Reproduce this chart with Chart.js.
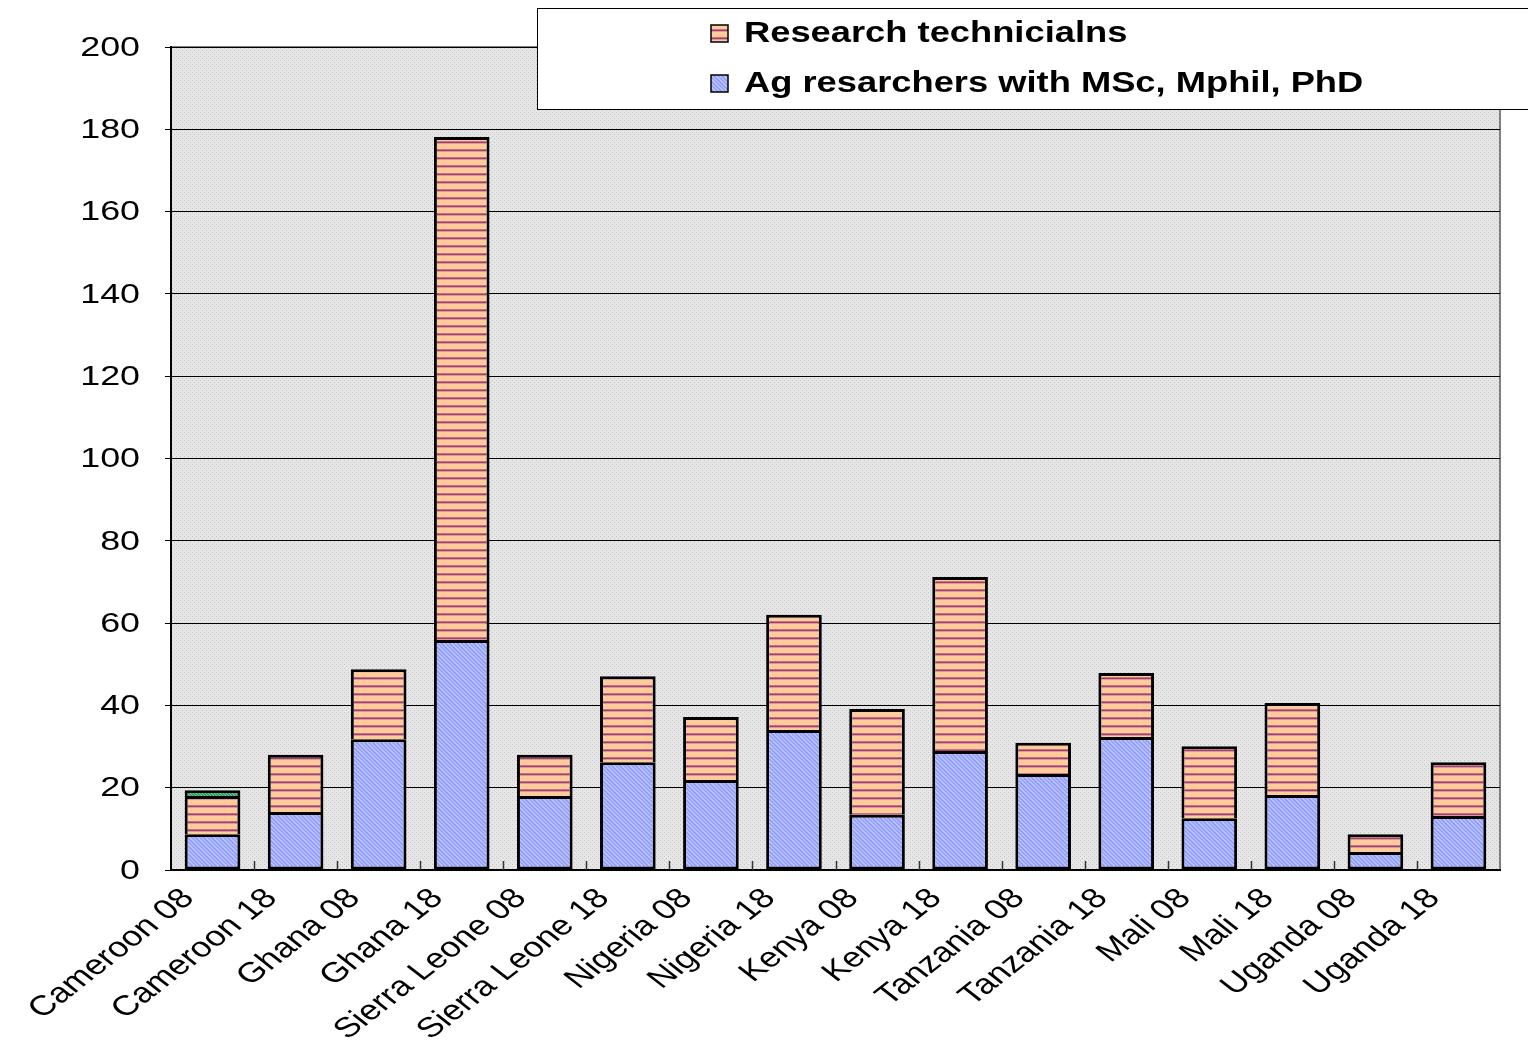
<!DOCTYPE html>
<html>
<head>
<meta charset="utf-8">
<script src="https://cdn.jsdelivr.net/npm/chart.js@4.4.1/dist/chart.umd.min.js"></script>
<style>
html,body{margin:0;padding:0;background:#fff;}
#wrap{position:relative;width:1528px;height:1047px;}
</style>
</head>
<body>
<div id="wrap"><canvas id="c" width="1528" height="1047"></canvas></div>
<script>
const categories = ["Cameroon 08","Cameroon 18","Ghana 08","Ghana 18","Sierra Leone 08","Sierra Leone 18","Nigeria 08","Nigeria 18","Kenya 08","Kenya 18","Tanzania 08","Tanzania 18","Mali 08","Mali 18","Uganda 08","Uganda 18"];
const researchers = [8.7, 14.1, 31.8, 55.9, 18.0, 26.2, 21.9, 34.0, 13.4, 28.9, 23.3, 32.3, 12.6, 18.2, 4.4, 13.1];
const technicians = [9.3, 13.9, 17.0, 122.2, 10.0, 20.9, 15.3, 28.0, 25.7, 42.3, 7.6, 15.6, 17.5, 22.4, 4.3, 13.1];
const other = [1.4, 0, 0, 0, 0, 0, 0, 0, 0, 0, 0, 0, 0, 0, 0, 0];
const yTicks = [0, 20, 40, 60, 80, 100, 120, 140, 160, 180, 200];
const seriesLabels = ["Ag resarchers with MSc, Mphil, PhD", "Research technicialns", ""];

const STRETCH = 1.28;
const FONT = '"Liberation Sans", Arial, sans-serif';

function makePattern(w, h, draw) {
  const c = document.createElement('canvas');
  c.width = w; c.height = h;
  const g = c.getContext('2d');
  draw(g, w, h);
  return document.getElementById('c').getContext('2d').createPattern(c, 'repeat');
}
const bgPattern = makePattern(4, 4, (g) => {
  g.fillStyle = '#e6e6e6'; g.fillRect(0,0,4,4);
  g.fillStyle = '#c6c6c6'; g.fillRect(0,0,1,1); g.fillRect(2,2,1,1);
});
const orangePattern = makePattern(8, 8, (g) => {
  g.fillStyle = '#ffcc99'; g.fillRect(0,0,8,8);
  g.fillStyle = '#c87088'; g.fillRect(0,5,8,1);
  g.fillStyle = '#a0406a'; g.fillRect(0,6,8,1);
  g.fillStyle = '#d89aa0'; g.fillRect(0,7,8,1);
});
const bluePattern = makePattern(8, 8, (g) => {
  g.fillStyle = '#9eabff'; g.fillRect(0,0,8,8);
  g.fillStyle = '#bcc4ff';
  for (let i = 0; i < 8; i++) { g.fillRect(i, i, 1, 1); g.fillRect((i+1)%8, i, 1, 1); g.fillRect((i+4)%8, i, 1, 1); }
  g.fillStyle = '#8c98f6';
  for (let i = 0; i < 8; i++) { g.fillRect((i+2)%8, i, 1, 1); g.fillRect((i+6)%8, i, 1, 1); }
});
const greenPattern = makePattern(6, 6, (g) => {
  g.fillStyle = '#339966'; g.fillRect(0,0,6,6);
  g.fillStyle = '#77cc99';
  for (let i = 0; i < 6; i++) { g.fillRect(i, i, 1, 1); g.fillRect((i+3)%6, i, 1, 1); }
});

const plotBg = {
  id: 'plotBg',
  beforeDraw(chart) {
    const {ctx, chartArea: a} = chart;
    ctx.save();
    ctx.fillStyle = bgPattern;
    ctx.fillRect(a.left, a.top, a.right - a.left, a.bottom - a.top);
    ctx.strokeStyle = '#808080';
    ctx.lineWidth = 2;
    ctx.strokeRect(a.left, a.top, a.right - a.left, a.bottom - a.top);
    ctx.restore();
  }
};

// Horizontally widened axis labels, as in the reference
const stretchedLabels = {
  id: 'stretchedLabels',
  afterDraw(chart) {
    const ctx = chart.ctx;
    const xs = chart.scales.x, ys = chart.scales.y;
    const a = chart.chartArea;
    ctx.save();
    ctx.fillStyle = '#000';
    ctx.font = '28px ' + FONT;
    ctx.textAlign = 'right';
    ctx.textBaseline = 'middle';
    ys.ticks.forEach(t => {
      const py = ys.getPixelForValue(t.value);
      ctx.save();
      ctx.translate(140, py + 1);
      ctx.scale(STRETCH, 1);
      ctx.fillText(String(t.value), 0, 0);
      ctx.restore();
    });
    ctx.strokeStyle = '#333';
    ctx.lineWidth = 1.5;
    const step = (a.right - a.left) / categories.length;
    for (let i = 1; i < categories.length; i++) {
      const px = Math.round(a.left + i * step) + 0.5;
      ctx.beginPath(); ctx.moveTo(px, a.bottom); ctx.lineTo(px, a.bottom - 9); ctx.stroke();
    }
    ctx.font = '28px ' + FONT;
    ctx.textAlign = 'right';
    ctx.textBaseline = 'middle';
    categories.forEach((lab, i) => {
      const px = xs.getPixelForValue(i);
      ctx.save();
      ctx.translate(px - 24, a.bottom + 24);
      ctx.scale(STRETCH, 1);
      ctx.rotate(-Math.PI / 4);
      ctx.fillText(lab, 0, 0);
      ctx.restore();
    });
    ctx.restore();
  }
};

const legendBox = {
  id: 'legendBox',
  afterDraw(chart) {
    const ctx = chart.ctx;
    ctx.save();
    ctx.fillStyle = '#ffffff';
    ctx.fillRect(537, 8, 1000, 102);
    ctx.strokeStyle = '#000';
    ctx.lineWidth = 1;
    ctx.strokeRect(537.5, 8.5, 1000, 101);
    const items = [
      {label: chart.data.datasets[1].label, fill: orangePattern, y: 33},
      {label: chart.data.datasets[0].label, fill: bluePattern, y: 83}
    ];
    ctx.font = 'bold 30px ' + FONT;
    ctx.textBaseline = 'middle';
    ctx.textAlign = 'left';
    items.forEach(it => {
      ctx.fillStyle = it.fill;
      ctx.fillRect(711, it.y - 8, 17, 17);
      ctx.strokeStyle = '#000';
      ctx.lineWidth = 1.5;
      ctx.strokeRect(711, it.y - 8, 17, 17);
      ctx.fillStyle = '#000';
      ctx.save();
      ctx.translate(744, it.y + 1);
      ctx.scale(1.21, 1);
      ctx.fillText(it.label, 0, 0);
      ctx.restore();
    });
    ctx.restore();
  }
};

new Chart(document.getElementById('c'), {
  type: 'bar',
  data: {
    labels: categories,
    datasets: [
      {label: seriesLabels[0], data: researchers, backgroundColor: bluePattern, borderColor: '#000', borderWidth: 3, borderSkipped: false},
      {label: seriesLabels[1], data: technicians, backgroundColor: orangePattern, borderColor: '#000', borderWidth: 3, borderSkipped: 'bottom'},
      {label: seriesLabels[2], data: other, backgroundColor: greenPattern, borderColor: '#000', borderWidth: 3, borderSkipped: 'bottom'}
    ]
  },
  options: {
    responsive: false,
    animation: false,
    devicePixelRatio: 1,
    layout: {padding: {top: 47, right: 28, left: 0, bottom: 0}},
    datasets: {bar: {categoryPercentage: 1, barPercentage: 0.67}},
    plugins: {legend: {display: false}, tooltip: {enabled: false}},
    scales: {
      x: {
        stacked: true,
        grid: {display: false, drawTicks: false},
        border: {display: true, color: '#000', width: 2},
        ticks: {display: false, autoSkip: false},
        afterFit(s) { s.height = 177; }
      },
      y: {
        stacked: true,
        min: 0, max: 200,
        afterBuildTicks(s) { s.ticks = yTicks.map(v => ({value: v})); },
        grid: {color: '#000', lineWidth: 1, drawTicks: true, tickLength: 6, tickColor: '#000'},
        border: {display: true, color: '#000', width: 2},
        ticks: {display: false},
        afterFit(s) { s.width = 171; }
      }
    }
  },
  plugins: [plotBg, stretchedLabels, legendBox]
});
</script>
</body>
</html>
